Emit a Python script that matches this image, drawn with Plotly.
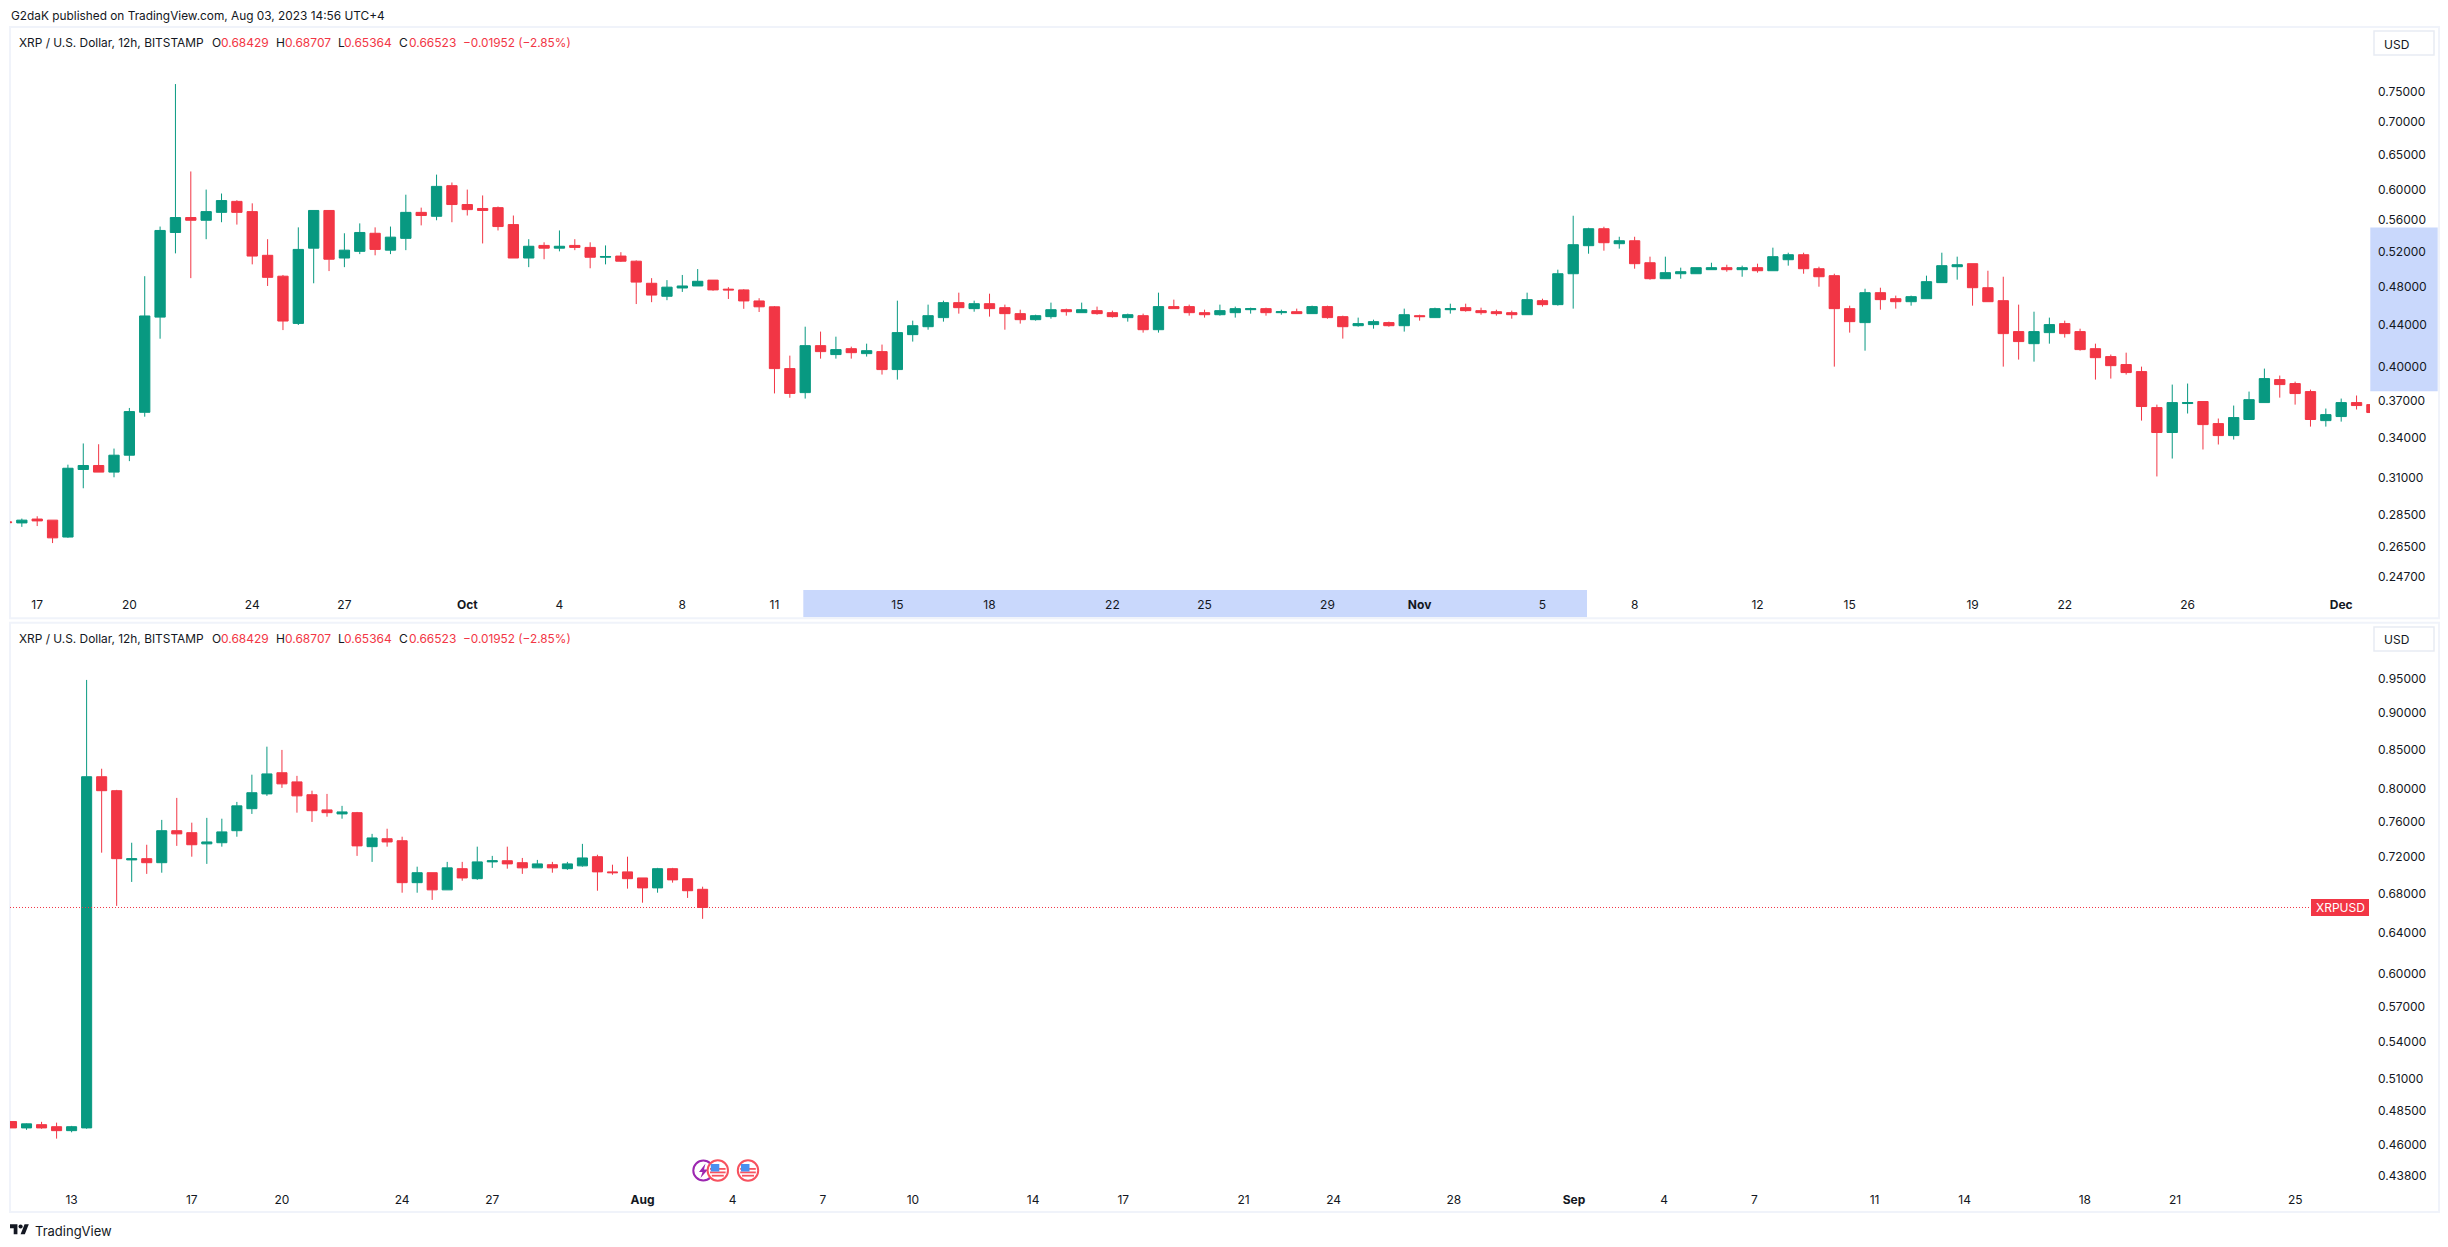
import math
from datetime import datetime, timedelta
import plotly.graph_objects as go

UNIT = 1e-4  # the price lists below are in ten-thousandths of a US dollar

# ---------- upper panel: XRP/USD 12h, from 2018-09-16 00:00 ----------
TOP_START = datetime(2018, 9, 16)
top_open = [2803,2796,2821,2814,2707,3160,3189,3141,3265,3602,4479,5437,5626,5591,5693,5838,5703,5160,4919,4415,5245,5718,5128,5207,5427,5221,5364,5693,5642,6052,5796,5744,5755,5536,5128,5278,5245,5278,5254,5137,5151,5091,
4840,4698,4788,4810,4875,4775,4767,4648,4586,3981,3768,4196,4111,4167,4120,4139,3972,4303,4382,4474,4630,4567,4619,4577,4515,4453,4484,4556,4525,4546,4525,4474,4494,4352,4588,4588,4525,4504,4525,4556,4567,4525,
4535,4515,4588,4484,4392,4403,4423,4392,4494,4474,4556,4577,4546,4535,4525,4504,4651,4609,4947,5275,5484,5299,5335,5073,4891,4947,4947,4993,5016,4993,5016,4981,5108,5167,5004,4925,4567,4423,4737,4672,4640,4672,
4847,5027,5062,4791,4651,4333,4215,4323,4413,4333,4167,4092,4018,3954,3641,3439,3675,3692,3510,3415,3543,3683,3882,3847,3777,3534,3567,3683,3666]
top_high = [2803,2824,2839,2814,3195,3354,3348,3315,3638,4919,5511,7637,6252,5998,5944,5854,5812,5354,4933,5501,5718,5718,5427,5551,5501,5511,5928,5755,6207,6096,5998,5918,5770,5652,5354,5316,5462,5354,5316,5278,5197,5100,
4897,4875,4933,5000,4875,4797,4775,4677,4594,4101,4382,4333,4283,4186,4215,4206,4651,4443,4609,4651,4737,4651,4726,4609,4556,4504,4630,4567,4630,4588,4546,4515,4515,4737,4662,4609,4556,4609,4588,4577,4577,4556,
4567,4598,4598,4494,4474,4453,4433,4567,4504,4577,4619,4619,4577,4556,4546,4737,4672,4993,5649,5496,5509,5384,5384,5144,5144,5016,5016,5073,5050,5039,5062,5251,5191,5191,5027,4947,4598,4780,4791,4705,4705,4925,
5191,5144,5062,4981,4913,4609,4535,4474,4443,4362,4215,4111,4129,3999,3666,3838,3847,3692,3551,3658,3777,3981,3918,3864,3794,3633,3717,3743,3666]
top_low = [2798,2771,2776,2670,2702,3027,3141,3104,3221,3566,4263,5183,4897,5354,5566,5536,5054,4810,4348,4399,4840,4977,5022,5174,5160,5174,5221,5526,5591,5566,5652,5302,5462,5128,5022,5114,5207,5221,5009,5054,5082,4615,
4635,4656,4745,4810,4758,4669,4565,4532,3761,3724,3717,4073,4073,4073,4092,3927,3882,4235,4352,4433,4515,4535,4484,4352,4413,4443,4463,4494,4525,4504,4474,4433,4323,4323,4567,4494,4474,4494,4474,4515,4494,4504,
4515,4515,4463,4264,4382,4362,4382,4333,4443,4474,4515,4535,4504,4494,4463,4504,4588,4598,4567,5179,5215,5239,5004,4880,4891,4891,4947,4993,4970,4913,4959,4981,5039,4947,4802,3999,4323,4148,4556,4567,4598,4672,
4847,4880,4598,4640,3999,4064,4045,4215,4274,4148,3882,3891,3927,3534,3110,3240,3592,3308,3346,3384,3543,3683,3725,3666,3486,3486,3526,3625,3600]
top_close = [2798,2814,2809,2702,3169,3189,3141,3265,3608,4491,5462,5626,5591,5703,5849,5693,5151,4906,4439,5230,5718,5114,5221,5437,5230,5379,5693,5652,6042,5796,5729,5718,5511,5128,5268,5245,5268,5254,5137,5146,5091,4853,
4711,4797,4810,4862,4767,4767,4648,4586,3981,3761,4196,4139,4158,4129,4148,3972,4323,4392,4494,4630,4577,4619,4567,4515,4453,4494,4556,4535,4556,4515,4484,4504,4352,4588,4567,4525,4504,4546,4567,4567,4525,4535,
4515,4588,4474,4382,4413,4433,4392,4504,4484,4567,4567,4546,4525,4515,4504,4662,4609,4947,5287,5484,5311,5335,5062,4891,4959,4970,5016,5016,4993,5016,4981,5144,5167,5004,4913,4567,4433,4737,4662,4640,4694,4858,
5039,5050,4791,4640,4313,4235,4333,4403,4313,4158,4082,4008,3945,3650,3439,3683,3683,3502,3415,3559,3708,3891,3838,3760,3543,3583,3683,3658,3600]

# ---------- lower panel: XRP/USD 12h, from 2023-07-11 00:00 ----------
BOT_START = datetime(2023, 7, 11)
bot_open = [4769,4722,4746,4731,4702,4722,8152,7977,7163,7177,7132,7496,7473,7344,7357,7496,7757,7937,8203,8087,7927,7742,7694,7709,7312,7403,7380,6914,7022,6837,7066,6957,7141,7154,7132,7075,7110,7066,7097,7199,7031,7031,6965,6858,7066,6957,6843]
bot_high = [4769,4755,4767,4761,4737,9476,8254,7987,7357,7334,7623,7888,7590,7647,7637,7839,8178,8542,8499,8163,7977,7937,7791,7718,7459,7519,7426,7088,7022,7141,7141,7312,7208,7312,7185,7163,7141,7141,7344,7221,7110,7199,6965,7075,7075,6957,6871]
bot_low = [4722,4708,4716,4644,4690,4716,7244,6669,6922,7009,7022,7321,7199,7119,7312,7426,7694,7913,8012,7709,7599,7661,7637,7208,7141,7312,6807,6807,6731,6837,6935,6944,7075,7066,7009,7075,7022,7053,7088,6828,7000,6850,6702,6807,6914,6752,6536]
bot_close = [4722,4752,4722,4702,4731,8152,7977,7177,7177,7132,7496,7459,7334,7366,7482,7791,7952,8188,8062,7913,7733,7709,7718,7321,7412,7366,6914,7022,6837,7075,6965,7141,7154,7119,7075,7119,7075,7119,7185,7031,7022,6957,6858,7066,6944,6828,6652]

last_close = 0.66523

top_price_ticks = [0.75,0.70,0.65,0.60,0.56,0.52,0.48,0.44,0.40,0.37,0.34,0.31,0.285,0.265,0.247]
bot_price_ticks = [0.95,0.90,0.85,0.80,0.76,0.72,0.68,0.64,0.60,0.57,0.54,0.51,0.485,0.46,0.438]

top_time_ticks = ["2018-09-17","2018-09-20","2018-09-24","2018-09-27","2018-10-01","2018-10-04","2018-10-08","2018-10-11","2018-10-15","2018-10-18","2018-10-22","2018-10-25","2018-10-29","2018-11-01","2018-11-05","2018-11-08","2018-11-12","2018-11-15","2018-11-19","2018-11-22","2018-11-26","2018-12-01"]
top_time_text = ["17","20","24","27","<b>Oct</b>","4","8","11","15","18","22","25","29","<b>Nov</b>","5","8","12","15","19","22","26","<b>Dec</b>"]
bot_time_ticks = ["2023-07-13","2023-07-17","2023-07-20","2023-07-24","2023-07-27","2023-08-01","2023-08-04","2023-08-07","2023-08-10","2023-08-14","2023-08-17","2023-08-21","2023-08-24","2023-08-28","2023-09-01","2023-09-04","2023-09-07","2023-09-11","2023-09-14","2023-09-18","2023-09-21","2023-09-25"]
bot_time_text = ["13","17","20","24","27","<b>Aug</b>","4","7","10","14","17","21","24","28","<b>Sep</b>","4","7","11","14","18","21","25"]

# ---------- style ----------
W, H = 2448, 1247
UP, DOWN = "#089981", "#F23645"
INK = "#131722"
FONT = "Inter"
BORDER = "#F0F3FA"
HILITE = "#C9D8FC"
PLOT_L, PLOT_R = 10, 2370
TOP_Y = (28, 590)
BOT_Y = (624, 1185)

def px(x): return x / W
def py(y): return 1 - y / H

def candle(start, o, h, l, c, xa, ya):
    t = [start + timedelta(hours=12 * i) for i in range(len(o))]
    return go.Candlestick(
        x=t, open=[v * UNIT for v in o], high=[v * UNIT for v in h],
        low=[v * UNIT for v in l], close=[v * UNIT for v in c],
        xaxis=xa, yaxis=ya, whiskerwidth=0, hoverinfo="skip", showlegend=False,
        increasing=dict(line=dict(color=UP, width=1), fillcolor=UP),
        decreasing=dict(line=dict(color=DOWN, width=1), fillcolor=DOWN))

fig = go.Figure()
fig.add_trace(candle(TOP_START, top_open, top_high, top_low, top_close, "x", "y"))
fig.add_trace(candle(BOT_START, bot_open, bot_high, bot_low, bot_close, "x2", "y2"))

BOT_RANGE = ["2023-07-10 22:48", "2023-09-27 11:45"]
fig.add_trace(go.Scatter(x=BOT_RANGE, y=[last_close, last_close], xaxis="x2", yaxis="y2",
                         mode="lines", line=dict(color=DOWN, width=1, dash="1px,2px"),
                         hoverinfo="skip", showlegend=False))

def xaxis(ticks, text, y1):
    return dict(type="date", domain=[px(PLOT_L), px(PLOT_R)], anchor="free",
                position=py(y1), rangeslider=dict(visible=False), showgrid=False, zeroline=False,
                showline=False, ticks="", tickmode="array", tickvals=ticks, ticktext=text,
                tickfont=dict(family=FONT, size=12, color=INK), ticklabelstandoff=6)

def yaxis(lo, hi, ticks, y0, y1, xa):
    return dict(type="log", range=[math.log10(lo), math.log10(hi)], domain=[py(y1), py(y0)],
                anchor=xa, side="right", showgrid=False, zeroline=False, showline=False, ticks="",
                tickmode="array", tickvals=ticks, ticktext=[f"{v:.5f}" for v in ticks],
                tickfont=dict(family=FONT, size=12, color=INK), ticklabelstandoff=7)

fig.update_layout(
    width=W, height=H, margin=dict(l=0, r=0, t=0, b=0), autosize=False,
    paper_bgcolor="white", plot_bgcolor="white", boxgap=0.33, boxgroupgap=0, dragmode=False,
    font=dict(family=FONT, size=12, color=INK),
    xaxis=dict(xaxis(top_time_ticks, top_time_text, TOP_Y[1]), range=["2018-09-16 02:45", "2018-12-01 22:30"]),
    yaxis=yaxis(0.2398, 0.8683, top_price_ticks, TOP_Y[0], TOP_Y[1], "x"),
    xaxis2=dict(xaxis(bot_time_ticks, bot_time_text, BOT_Y[1]), range=BOT_RANGE),
    yaxis2=yaxis(0.4321, 1.0337, bot_price_ticks, BOT_Y[0], BOT_Y[1], "x2"),
)

shapes = []
def rect(x0, y0, x1, y1, fill=None, line=None, lw=0, layer="below"):
    shapes.append(dict(type="rect", xref="paper", yref="paper", x0=px(x0), x1=px(x1), y0=py(y0), y1=py(y1),
                       fillcolor=fill or "rgba(0,0,0,0)", line=dict(color=line or "rgba(0,0,0,0)", width=lw), layer=layer))
def circle(cx, cy, r, fill, line, lw=1.5):
    shapes.append(dict(type="circle", xref="paper", yref="paper", x0=px(cx-r), x1=px(cx+r), y0=py(cy-r), y1=py(cy+r),
                       fillcolor=fill, line=dict(color=line, width=lw), layer="above"))
def path(points, fill, line_w=0, line=None):
    d = "M " + " L ".join(f"{px(x):.6f},{py(y):.6f}" for x, y in points) + " Z"
    shapes.append(dict(type="path", xref="paper", yref="paper", path=d, fillcolor=fill,
                       line=dict(color=line or fill, width=line_w), layer="above"))

# selection highlights on the upper panel's axes
rect(803.3, 590, 1587, 617.3, fill=HILITE)
rect(2370.3, 227.6, 2437.7, 391.3, fill=HILITE)
# panel borders
rect(10, 27, 2439, 618.3, line=BORDER, lw=2)
rect(10, 622.7, 2439, 1212, line=BORDER, lw=2)
# currency buttons
for dy in (0, 596):
    shapes.append(dict(type="rect", xref="paper", yref="paper", x0=px(2374), x1=px(2434), y0=py(31+dy), y1=py(55+dy),
                       fillcolor="white", line=dict(color="#E8EBF3", width=1.5), layer="below"))
# last price label
rect(2311, 899, 2369, 916, fill=DOWN, layer="above")

# event icons
circle(703.3, 1170.5, 10, "white", "#9C27B0", lw=2)
path([(705.5,1163.5),(699,1172),(702.5,1172),(700.5,1178),(708,1169.5),(704,1169.5)], "#9C27B0")
for cx in (717.8, 748):
    circle(cx, 1170.5, 10.2, "white", "#F7525F", lw=2)
    for dy, hw in ((-1.6, 7.8), (1.9, 7.8), (5.2, 6)):
        rect(cx-hw, 1170.5+dy-0.9, cx+hw, 1170.5+dy+0.9, fill="#F7525F", layer="above")
    rect(cx-7, 1164, cx+1.5, 1171.5, fill="#4A90F0", layer="above")

# TradingView logo
def lg(u, v): return (10 + 0.53*u, 1222 + 0.56*v)
path([lg(*p) for p in [(14,22),(7,22),(7,11),(0,11),(0,4),(14,4)]], INK)
path([lg(*p) for p in [(28,22),(20,22),(27.5,4),(35.5,4)]], INK)
circle(10+0.53*20, 1222+0.56*8, 2.1, INK, INK, lw=0)
fig.update_layout(shapes=shapes)

def text(x, y, s, color=INK, size=12, anchor="left"):
    fig.add_annotation(x=px(x), y=py(y), xref="paper", yref="paper", text=s, showarrow=False,
                       xanchor=anchor, yanchor="middle", borderpad=0,
                       font=dict(family=FONT, size=size, color=color))

text(10, 16, "G2daK published on TradingView.com, Aug 03, 2023 14:56 UTC+4", size=11.85)
text(34, 1231, "TradingView", size=13)
for dy in (0, 595.5):
    text(18, 43+dy, "XRP / U.S. Dollar, 12h, BITSTAMP", size=11.9)
    for x, s in ((211, "O"), (275, "H"), (337, "L"), (398, "C")):
        text(x, 43+dy, s)
    for x, s in ((220, "0.68429"), (284, "0.68707"), (343, "0.65364"), (408, "0.66523")):
        text(x, 43+dy, s, color=DOWN)
    text(462, 43+dy, "−0.01952 (−2.85%)", color=DOWN, size=11.8)
    text(2383, 44+dy, "USD")
text(2340, 907.5, "XRPUSD", color="white", anchor="center")

fig.write_html("out.html", config=dict(displayModeBar=False, responsive=False),
               post_script="document.body.style.margin='0';")
